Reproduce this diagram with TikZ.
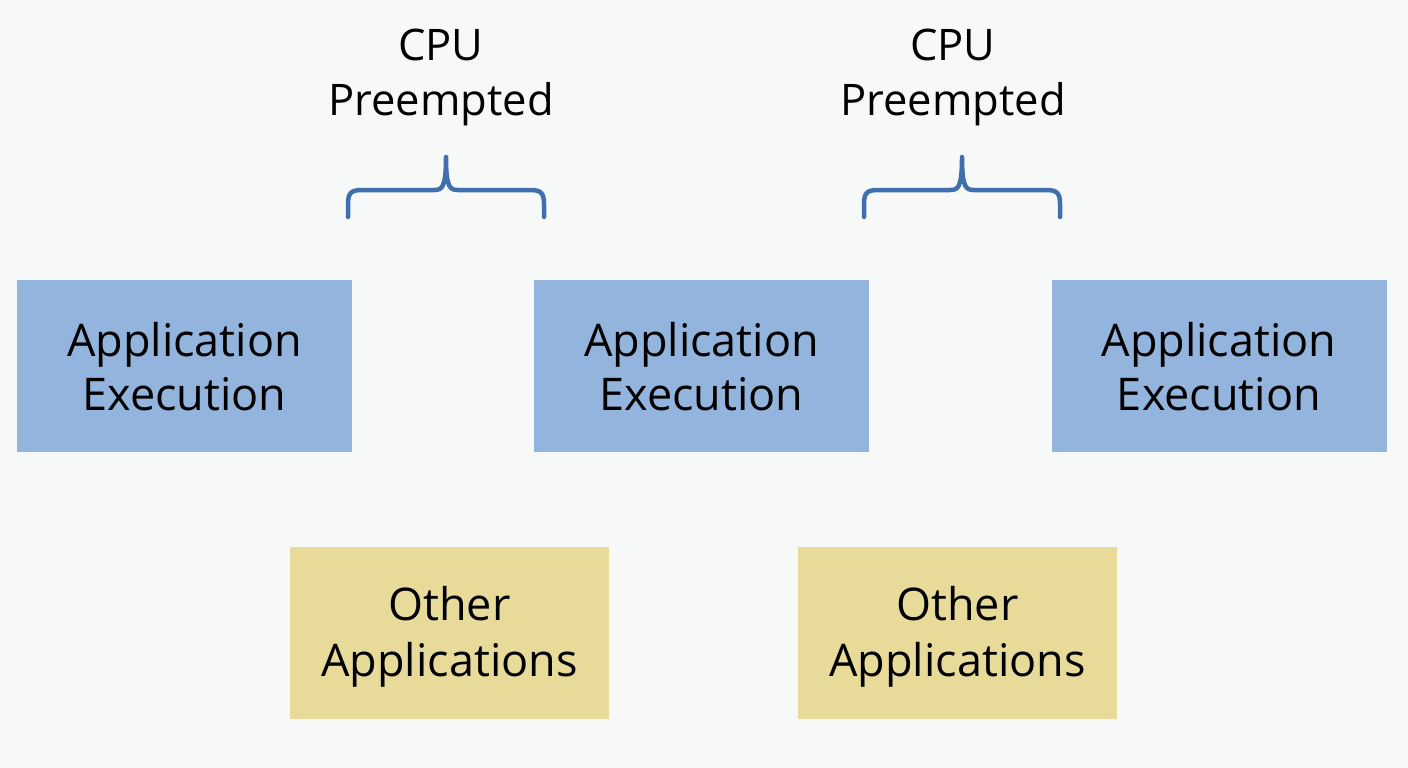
\documentclass[tikz,border=0pt]{standalone}
\usepackage{fontspec}
\setmainfont{Open Sans}
\definecolor{bg}{HTML}{F7F8F8}
\definecolor{appblue}{HTML}{93B4DC}
\definecolor{othyellow}{HTML}{E8DB9A}
\definecolor{bracecol}{HTML}{3F6FAD}
\begin{document}
\begin{tikzpicture}[x=1pt,y=-1pt,
  appbox/.style={fill=appblue,draw=none,minimum width=335pt,minimum height=172pt,inner sep=0pt,align=center},
  othbox/.style={fill=othyellow,draw=none,minimum width=319pt,minimum height=172pt,inner sep=0pt,align=center},
  cpulabel/.style={align=center,inner sep=0pt,font=\fontsize{43.5}{55}\selectfont},
  bracepath/.style={draw=bracecol,line width=4.5pt,line cap=round,line join=round}]
\useasboundingbox[fill=bg] (0,0) rectangle (1408,768);
\node[appbox] (a1) at (184.5,366) {};
\node[appbox] (a2) at (701.5,366) {};
\node[appbox] (a3) at (1219,366) {};
\node[othbox] (o1) at (449.5,633) {};
\node[othbox] (o2) at (957.5,633) {};
\foreach \b in {a1,a2,a3}{
  \node[align=center,inner sep=0pt,font=\fontsize{45}{54}\selectfont] at ([yshift=-1pt]\b.center) {Application\\Execution};
}
\foreach \b in {o1,o2}{
  \node[align=center,inner sep=0pt,font=\fontsize{45}{56}\selectfont] at ([yshift=-4pt]\b.center) {Other\\Applications};
}
\node[cpulabel] (c1) at (441,77) {CPU\\Preempted};
\node[cpulabel] (c2) at (953,77) {CPU\\Preempted};
% braces
\foreach \cx/\nm in {446/b1, 962/b2}{
  \coordinate (\nm) at (\cx,157);
  \draw[bracepath] (\cx-98,217) -- (\cx-98,204) .. controls (\cx-98,193) and (\cx-95,190) .. (\cx-84,190)
     -- (\cx-12,190) .. controls (\cx-4,190) and (\cx,188) .. (\nm)
     .. controls (\cx,188) and (\cx+4,190) .. (\cx+12,190)
     -- (\cx+84,190) .. controls (\cx+95,190) and (\cx+98,193) .. (\cx+98,204) -- (\cx+98,217);
}
\end{tikzpicture}
\end{document}
